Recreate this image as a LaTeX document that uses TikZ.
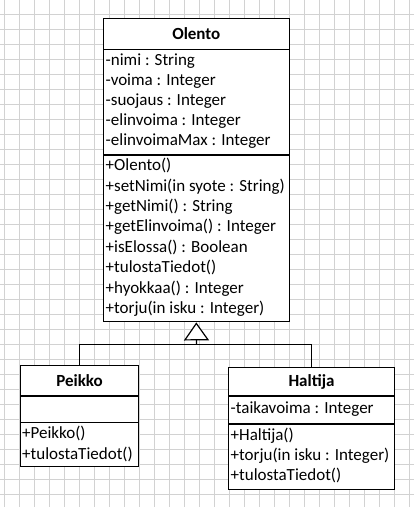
\documentclass[tikz,border=0pt]{standalone}
\usepackage{fontspec}
\setmainfont{Carlito}
\usetikzlibrary{arrows.meta}

\begin{document}
\begin{tikzpicture}[x=1pt, y=1pt, font=\fontsize{17}{20}\selectfont,
  classbox/.style={draw, line width=1.4pt, inner sep=0pt, fill=white},
  member/.style={anchor=west, inner sep=0pt, text height=11.5pt, text depth=3.5pt},
  classname/.style={font=\fontsize{17}{20}\selectfont\bfseries, inner sep=0pt},
  gridline/.style={gray!35, line width=0.7pt},
  link/.style={line width=1.2pt}]
  \useasboundingbox (0,0) rectangle (414,507);
  \fill[white] (0,0) rectangle (414,507);
  \foreach \x in {4,19,...,409} \draw[gridline] (\x,0) -- (\x,507);
  \foreach \y in {13,28,...,493} \draw[gridline] (0,\y) -- (414,\y);

  \node[classbox, minimum width=186pt, minimum height=303.4pt] (olento) at (196.3,337) {};
  \node[classbox, minimum width=117.6pt, minimum height=101pt] (peikko) at (79.5,90.8) {};
  \node[classbox, minimum width=165.6pt, minimum height=121.6pt] (haltija) at (311.5,78.5) {};

  \draw[line width=1.4pt] (103.3,457.7) -- (289.3,457.7);
  \draw[line width=1.4pt] (103.3,352) -- (289.3,352);
  \draw[line width=1.4pt] (20.7,111) -- (138.3,111);
  \draw[line width=1.4pt] (20.7,84.3) -- (138.3,84.3);
  \draw[line width=1.4pt] (228.7,111) -- (394.3,111);
  \draw[line width=1.4pt] (228.7,83) -- (394.3,83);

  \node[classname] (olentoname) at (196.3,473) {Olento};
  \node[classname] (peikkoname) at (79.5,126) {Peikko};
  \node[classname] (haltijaname) at (311.5,124.7) {Haltija};

  \foreach \t [count=\i] in {-nimi : String, -voima : Integer, -suojaus : Integer,
      -elinvoima : Integer, -elinvoimaMax : Integer}
    \node[member] (oa\i) at (105.5,465.3-20*\i) {\t};
  \foreach \t [count=\i] in {+Olento(), +setNimi(in syote : String), +getNimi() : String,
      +getElinvoima() : Integer, +isElossa() : Boolean, +tulostaTiedot(),
      +hyokkaa() : Integer, +torju(in isku : Integer)}
    \node[member] (oo\i) at (105.5,360.7-20.4*\i) {\t};

  \node[member] (po1) at (22,72) {+Peikko()};
  \node[member] (po2) at (22,52) {+tulostaTiedot()};

  \node[member] (ha1) at (230.5,97.7) {-taikavoima : Integer};
  \node[member] (ho1) at (230.5,70.3) {+Haltija()};
  \node[member] (ho2) at (230.5,50.3) {+torju(in isku : Integer)};
  \node[member] (ho3) at (230.5,30.3) {+tulostaTiedot()};

  \coordinate (join) at (196.5,162.7);
  \draw[link] (peikko.north) |- (join) -| (haltija.north);
  \draw[link, -{Triangle[open, fill=white, length=18pt, width=25pt]}] (join) -- (olento.south);
\end{tikzpicture}
\end{document}
